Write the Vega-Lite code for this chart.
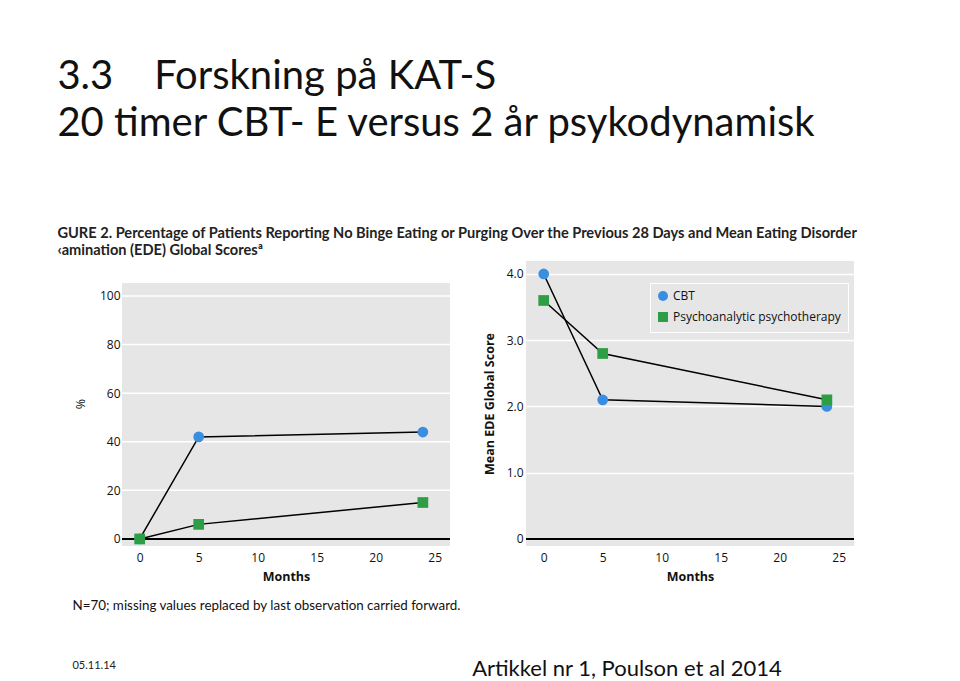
{
  "$schema": "https://vega.github.io/schema/vega-lite/v6.json",
  "background": "white",
  "padding": {"left": 57, "top": 57, "right": 10, "bottom": 4},
  "title": {
    "text": ["3.3\u00a0\u00a0\u00a0\u00a0Forskning på KAT-S", "20 timer CBT- E versus 2 år psykodynamisk"],
    "subtitle": ["GURE 2. Percentage of Patients Reporting No Binge Eating or Purging Over the Previous 28 Days and Mean Eating Disorder", "‹amination (EDE) Global Scoresª"],
    "anchor": "start",
    "frame": "bounds",
    "dx": -15,
    "font": "Lato",
    "fontSize": 40,
    "fontWeight": "normal",
    "lineHeight": 47,
    "color": "#111111",
    "subtitleFont": "Lato",
    "subtitleFontSize": 14.6,
    "subtitleFontWeight": "bold",
    "subtitleLineHeight": 17,
    "subtitleColor": "#222222",
    "subtitlePadding": 82,
    "offset": 3
  },
  "datasets": {
    "pct": [
      {"month": 0, "value": 0, "group": "CBT"},
      {"month": 5, "value": 42, "group": "CBT"},
      {"month": 24, "value": 44, "group": "CBT"},
      {"month": 0, "value": 0, "group": "Psychoanalytic psychotherapy"},
      {"month": 5, "value": 6, "group": "Psychoanalytic psychotherapy"},
      {"month": 24, "value": 15, "group": "Psychoanalytic psychotherapy"}
    ],
    "ede": [
      {"month": 0, "value": 4.0, "group": "CBT"},
      {"month": 5, "value": 2.1, "group": "CBT"},
      {"month": 24, "value": 2.0, "group": "CBT"},
      {"month": 0, "value": 3.6, "group": "Psychoanalytic psychotherapy"},
      {"month": 5, "value": 2.8, "group": "Psychoanalytic psychotherapy"},
      {"month": 24, "value": 2.1, "group": "Psychoanalytic psychotherapy"}
    ]
  },
  "spacing": 10,
  "resolve": {"scale": {"color": "independent", "shape": "independent", "x": "independent", "y": "independent"}},
  "hconcat": [
    {
      "width": 328,
      "height": 285,
      "title": {
        "text": "N=70; missing values replaced by last observation carried forward.",
        "subtitle": "05.11.14",
        "orient": "bottom",
        "anchor": "start",
        "frame": "bounds",
        "dx": -2,
        "offset": 16,
        "font": "Lato",
        "fontSize": 13.4,
        "fontWeight": "normal",
        "color": "#111111",
        "subtitleFont": "Lato",
        "subtitleFontSize": 11,
        "subtitleColor": "#222222",
        "subtitlePadding": 48
      },
      "layer": [
        {
          "data": {"values": [{}]},
          "mark": {"type": "rect", "color": "#e6e6e6"},
          "encoding": {
            "x": {"datum": -1.5, "type": "quantitative"},
            "x2": {"datum": 26.3},
            "y": {"datum": -2.9, "type": "quantitative"},
            "y2": {"datum": 105.3}
          }
        },
        {
          "data": {"values": [{"g": 20}, {"g": 40}, {"g": 60}, {"g": 80}, {"g": 100}]},
          "mark": {"type": "rule", "color": "white", "strokeWidth": 1.5},
          "encoding": {"y": {"field": "g", "type": "quantitative"}}
        },
        {
          "data": {"name": "pct"},
          "mark": {"type": "line", "color": "black", "strokeWidth": 1.5},
          "encoding": {
            "x": {"field": "month", "type": "quantitative"},
            "y": {"field": "value", "type": "quantitative"},
            "detail": {"field": "group"},
            "order": {"field": "month"}
          }
        },
        {
          "data": {"values": [{}]},
          "mark": {"type": "rule", "color": "black", "strokeWidth": 2},
          "encoding": {"y": {"datum": 0, "type": "quantitative"}}
        },
        {
          "data": {"name": "pct"},
          "mark": {"type": "point", "filled": true, "opacity": 1, "size": 115},
          "encoding": {
            "x": {"field": "month", "type": "quantitative"},
            "y": {"field": "value", "type": "quantitative"},
            "color": {"field": "group", "type": "nominal", "legend": null, "scale": {"domain": ["CBT", "Psychoanalytic psychotherapy"], "range": ["#3a8ee0", "#2e9e44"]}},
            "shape": {"field": "group", "type": "nominal", "legend": null, "scale": {"domain": ["CBT", "Psychoanalytic psychotherapy"], "range": ["circle", "square"]}}
          }
        }
      ],
      "encoding": {
        "x": {
          "type": "quantitative",
          "scale": {"domain": [-1.5, 26.3], "nice": false, "zero": false},
          "axis": {"values": [0, 5, 10, 15, 20, 25], "title": "Months", "grid": false}
        },
        "y": {
          "type": "quantitative",
          "scale": {"domain": [-2.9, 114.4], "nice": false, "zero": false},
          "axis": {"values": [0, 20, 40, 60, 80, 100], "title": "%", "titleFontWeight": "normal", "grid": false, "labelPadding": 2, "titlePadding": 12}
        }
      }
    },
    {
      "width": 328,
      "height": 285,
      "view": {"fill": "#e6e6e6", "stroke": null},
      "title": {
        "text": "Artikkel nr 1, Poulson et al 2014",
        "orient": "bottom",
        "anchor": "start",
        "frame": "bounds",
        "dx": -11,
        "offset": 76,
        "font": "Lato",
        "fontSize": 22,
        "fontWeight": "normal",
        "color": "#111111"
      },
      "data": {"name": "ede"},
      "layer": [
        {
          "mark": {"type": "line", "color": "black", "strokeWidth": 1.5},
          "encoding": {
            "x": {"field": "month", "type": "quantitative"},
            "y": {"field": "value", "type": "quantitative"},
            "detail": {"field": "group"},
            "order": {"field": "month"}
          }
        },
        {
          "data": {"values": [{}]},
          "mark": {"type": "rule", "color": "black", "strokeWidth": 2},
          "encoding": {"y": {"datum": 0, "type": "quantitative"}}
        },
        {
          "mark": {"type": "point", "filled": true, "opacity": 1, "size": 115},
          "encoding": {
            "x": {"field": "month", "type": "quantitative"},
            "y": {"field": "value", "type": "quantitative"},
            "color": {"field": "group", "type": "nominal", "scale": {"domain": ["CBT", "Psychoanalytic psychotherapy"], "range": ["#3a8ee0", "#2e9e44"]},
              "legend": {"title": null, "orient": "none", "legendX": 124, "legendY": 22, "strokeColor": "white", "fillColor": "#e6e6e6", "padding": 7, "labelFont": "Open Sans", "labelFontSize": 12, "labelLimit": 400, "labelColor": "#111111", "symbolSize": 100, "rowPadding": 5, "symbolOpacity": 1, "cornerRadius": 0}},
            "shape": {"field": "group", "type": "nominal", "scale": {"domain": ["CBT", "Psychoanalytic psychotherapy"], "range": ["circle", "square"]},
              "legend": {"title": null, "orient": "none", "legendX": 124, "legendY": 22, "strokeColor": "white", "fillColor": "#e6e6e6", "padding": 7, "labelFont": "Open Sans", "labelFontSize": 12, "labelLimit": 400, "labelColor": "#111111", "symbolSize": 100, "rowPadding": 5, "symbolOpacity": 1, "cornerRadius": 0}}
          }
        }
      ],
      "encoding": {
        "x": {
          "type": "quantitative",
          "scale": {"domain": [-1.5, 26.3], "nice": false, "zero": false},
          "axis": {"values": [0, 5, 10, 15, 20, 25], "title": "Months", "grid": false}
        },
        "y": {
          "type": "quantitative",
          "scale": {"domain": [-0.106, 4.196], "nice": false, "zero": false},
          "axis": {"values": [0, 1, 2, 3, 4], "title": "Mean EDE Global Score", "grid": true, "gridColor": "white", "gridWidth": 1.5, "gridOpacity": 1, "labelPadding": 3, "titlePadding": 10, "labelExpr": "datum.value == 0 ? '0' : format(datum.value, '.1f')"}
        }
      }
    }
  ],
  "config": {
    "view": {"stroke": null},
    "axis": {
      "labelFont": "Open Sans",
      "labelFontSize": 12,
      "labelColor": "#111111",
      "titleFont": "Open Sans",
      "titleFontSize": 12.5,
      "titleFontWeight": "bold",
      "titleColor": "#111111",
      "ticks": false,
      "domain": false
    },
    "axisX": {"labelPadding": 6, "titlePadding": 7}
  }
}
